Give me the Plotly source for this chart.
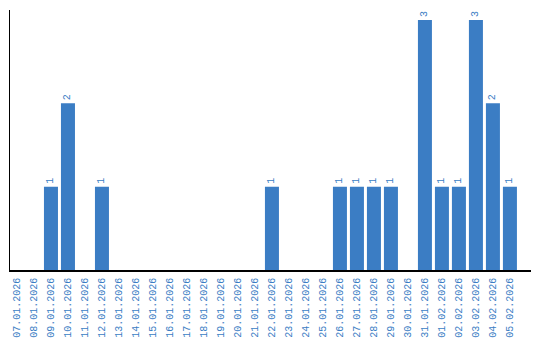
import plotly.graph_objects as go

dates = ["07.01.2026", "08.01.2026", "09.01.2026", "10.01.2026", "11.01.2026",
         "12.01.2026", "13.01.2026", "14.01.2026", "15.01.2026", "16.01.2026",
         "17.01.2026", "18.01.2026", "19.01.2026", "20.01.2026", "21.01.2026",
         "22.01.2026", "23.01.2026", "24.01.2026", "25.01.2026", "26.01.2026",
         "27.01.2026", "28.01.2026", "29.01.2026", "30.01.2026", "31.01.2026",
         "01.02.2026", "02.02.2026", "03.02.2026", "04.02.2026", "05.02.2026"]
counts = [0, 0, 1, 2, 0, 1, 0, 0, 0, 0, 0, 0, 0, 0, 0,
          1, 0, 0, 0, 1, 1, 1, 1, 0, 3, 1, 1, 3, 2, 1]

labels = [str(v) if v > 0 else "" for v in counts]

blue = "#3b7dc4"
font_family = "Liberation Mono"

fig = go.Figure(go.Bar(
    x=dates, y=counts, marker_color=blue, marker_line_width=0,
    text=labels, textposition="outside", textangle=-90,
    textfont=dict(family=font_family, size=10, color=blue),
    cliponaxis=False,
))

fig.update_layout(
    width=540, height=340,
    margin=dict(l=10, r=9, t=10, b=70, autoexpand=False),
    paper_bgcolor="white", plot_bgcolor="white",
    showlegend=False, bargap=0.176,
    xaxis=dict(type="category", range=[-0.41, 30.24], showline=True,
               linecolor="black", linewidth=1.5, showgrid=False, ticks="",
               automargin=False, ticklabelstandoff=2,
               tickangle=-90, tickfont=dict(family=font_family, size=10, color=blue)),
    yaxis=dict(range=[0, 3.12], showline=True, linecolor="black", linewidth=1,
               showgrid=False, zeroline=False, showticklabels=False, ticks="",
               automargin=False),
)

fig.write_html("out.html")
